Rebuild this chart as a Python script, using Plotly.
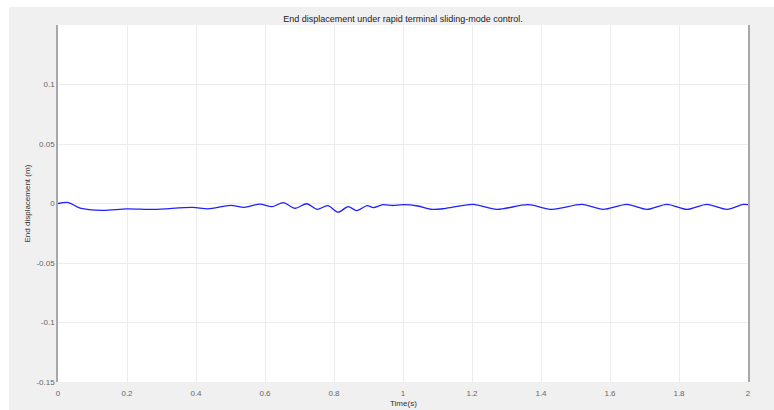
import plotly.graph_objects as go

time_s = [0.0, 0.03, 0.064, 0.128, 0.2, 0.28, 0.39, 0.435, 0.5, 0.54, 0.585, 0.62,
          0.653, 0.687, 0.721, 0.751, 0.782, 0.812, 0.841, 0.866, 0.896, 0.914,
          0.942, 0.97, 1.0, 1.043, 1.084, 1.12, 1.203, 1.272, 1.362, 1.432, 1.519,
          1.58, 1.649, 1.707, 1.765, 1.823, 1.881, 1.939, 1.986, 2.0]
displacement_m = [0.0, 0.0008, -0.0038, -0.0057, -0.0045, -0.005, -0.0032, -0.0045,
                  -0.0016, -0.0032, -0.0005, -0.0027, 0.0007, -0.004, -0.0002, -0.0049,
                  -0.0018, -0.0073, -0.0027, -0.006, -0.0018, -0.0035, -0.001, -0.0017,
                  -0.001, -0.0021, -0.0049, -0.0043, -0.0007, -0.0049, -0.001, -0.0049,
                  -0.0008, -0.0049, -0.0007, -0.0049, -0.0007, -0.0049, -0.0007,
                  -0.0049, -0.0007, -0.001]
x_ticks = [0, 0.2, 0.4, 0.6, 0.8, 1, 1.2, 1.4, 1.6, 1.8, 2]
x_tick_labels = ["0", "0.2", "0.4", "0.6", "0.8", "1", "1.2", "1.4", "1.6", "1.8", "2"]
y_ticks = [-0.15, -0.1, -0.05, 0, 0.05, 0.1]
y_tick_labels = ["-0.15", "-0.1", "-0.05", "0", "0.05", "0.1"]

W, H = 774, 410
L, R, T, B = 58, 26, 25, 28
pw, ph = W - L - R, H - T - B

fig = go.Figure()
fig.add_trace(go.Scatter(x=time_s, y=displacement_m, mode="lines",
                         line=dict(color="#2020ff", width=1.3, shape="spline", smoothing=0.8),
                         showlegend=False, hoverinfo="skip"))

gray = "#f0f0f0"
def px2x(px):
    return (px - L) / pw
def py2y(py):
    return 1 - (py - T) / ph

bands = [
    (9, 7, W, T),        # top
    (9, 7, L, H),        # left
    (L + pw, 7, W, H),   # right
    (9, T + ph, W, H),   # bottom
]
shapes = []
for x0, y0, x1, y1 in bands:
    shapes.append(dict(type="rect", xref="paper", yref="paper",
                       x0=px2x(x0), x1=px2x(x1), y0=py2y(y1), y1=py2y(y0),
                       fillcolor=gray, line=dict(width=0), layer="below"))

font_family = "Liberation Sans, Arial, sans-serif"
annotations = [
    dict(text="Time(s)", xref="paper", yref="paper", x=0.5, y=py2y(403),
         xanchor="center", yanchor="middle", showarrow=False,
         font=dict(size=8, color="#333")),
    dict(text="End displacement (m)", xref="paper", yref="paper", x=px2x(27), y=0.5,
         xanchor="center", yanchor="middle", showarrow=False, textangle=-90,
         font=dict(size=8, color="#333")),
]
fig.update_layout(
    width=W, height=H,
    margin=dict(l=L, r=R, t=T, b=B),
    paper_bgcolor="white",
    plot_bgcolor="white",
    shapes=shapes,
    annotations=annotations,
    font=dict(family=font_family, size=8, color="#444"),
    title=dict(text="End displacement under rapid terminal sliding-mode control.",
               x=(L + pw / 2) / W, xanchor="center", y=1 - 19 / H, yanchor="middle",
               font=dict(size=9, color="#222", family=font_family)),
    xaxis=dict(range=[0, 2], tickvals=x_ticks, ticktext=x_tick_labels,
               showgrid=True, gridcolor="#ececec", gridwidth=1, zeroline=False,
               showline=False, ticks="", ticklabelstandoff=5, automargin=False,
               tickfont=dict(size=8, color="#666")),
    yaxis=dict(range=[-0.15, 0.15], tickvals=y_ticks, ticktext=y_tick_labels,
               showgrid=True, gridcolor="#ececec", gridwidth=1, zeroline=False,
               showline=True, mirror=True, linecolor="#a8a8a8", linewidth=1.5,
               ticks="", automargin=False, tickfont=dict(size=8, color="#666")),
)

fig.write_html("out.html")
